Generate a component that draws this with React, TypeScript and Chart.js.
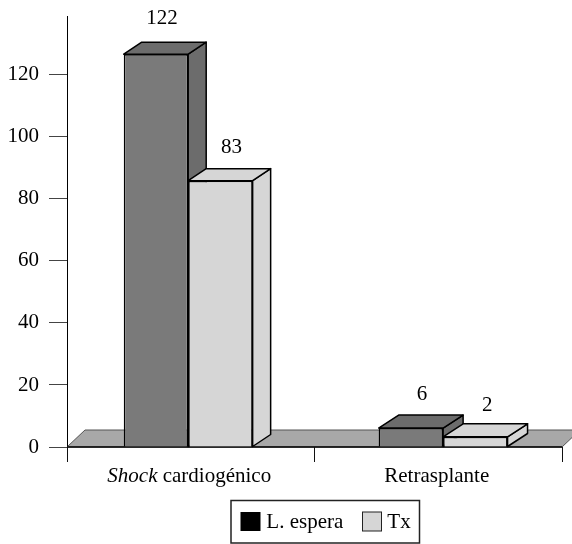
import React, { useEffect, useRef } from "react";
import { Chart, registerables } from "chart.js";

Chart.register(...registerables);

const categories = ["Shock cardiogénico", "Retrasplante"];
const italicPrefix = ["Shock", ""];
const seriesNames = ["L. espera", "Tx"];
const esperaHeights = [126.7, 6.1];
const txHeights = [85.9, 3.3];
const esperaLabels = ["122", "6"];
const txLabels = ["83", "2"];
const yTicks = [0, 20, 40, 60, 80, 100, 120];
const legendSwatches = ["#000000", "#d6d6d6"];
const frontColors = ["#7a7a7a", "#d6d6d6"];
const sideColors = ["#6c6c6c", "#d6d6d6"];
const labelShiftX = [[6, 11], [11, 12]];
const labelShiftY = [[30, 28], [28, 26]];

const FONT = "'Liberation Serif', 'Times New Roman', serif";
const FONT_SIZE = 21;
const DX = 18;
const DY = 12;

const poly = (ctx: CanvasRenderingContext2D, pts: number[][], fill: string, stroke: string, lw = 1.5) => {
  ctx.beginPath();
  pts.forEach((p, i) => (i ? ctx.lineTo(p[0], p[1]) : ctx.moveTo(p[0], p[1])));
  ctx.closePath();
  ctx.fillStyle = fill;
  ctx.fill();
  ctx.lineWidth = lw;
  ctx.strokeStyle = stroke;
  ctx.lineJoin = "round";
  ctx.stroke();
};

const plugin = {
  id: "threeD",
  afterLayout(chart: any) {
    const l = chart.legend;
    const cx = 326;
    const shift = cx - (l.left + l.right) / 2;
    l.left += shift;
    l.right += shift;
    const h = l.bottom - l.top;
    l.top = 496 + (43 - h) / 2;
    l.bottom = l.top + h;
  },
  beforeDatasetsDraw(chart: any) {
    const { ctx, chartArea: a, scales } = chart;
    const y0 = scales.y.getPixelForValue(0);
    ctx.save();
    poly(ctx, [[a.left, y0], [a.left + 18, y0 - 17], [a.right + 18, y0 - 17], [a.right, y0]], "#a8a8a8", "#555555", 1);
    ctx.beginPath();
    ctx.moveTo(a.left, y0);
    ctx.lineTo(a.right, y0);
    ctx.lineWidth = 1.5;
    ctx.strokeStyle = "#000";
    ctx.stroke();
    [0, 1].forEach((d) => {
      const meta = chart.getDatasetMeta(d);
      meta.data.forEach((b: any) => {
        const l = b.x - b.width / 2;
        const r = b.x + b.width / 2;
        const t = b.y;
        const bt = b.base;
        const dy = bt - t < 30 ? 13 : DY;
        const dx = bt - t < 30 ? 20 : DX;
        poly(ctx, [[r, t], [r + dx, t - dy], [r + dx, bt - dy], [r, bt]], sideColors[d], "#000");
        poly(ctx, [[l, t], [l + dx, t - dy], [r + dx, t - dy], [r, t]], sideColors[d], "#000");
      });
    });
    ctx.restore();
  },
  afterDatasetsDraw(chart: any) {
    const { ctx, scales } = chart;
    ctx.save();
    ctx.fillStyle = "#000";
    ctx.textBaseline = "alphabetic";
    ctx.textAlign = "center";
    ctx.font = `${FONT_SIZE}px ${FONT}`;
    [esperaLabels, txLabels].forEach((labels, d) => {
      chart.getDatasetMeta(d).data.forEach((b: any, i: number) => {
        ctx.fillText(labels[i], b.x + labelShiftX[d][i], b.y - labelShiftY[d][i]);
      });
    });
    // category labels, the first one with an italic word
    ctx.textAlign = "left";
    categories.forEach((cat, i) => {
      const pre = italicPrefix[i];
      const rest = cat.slice(pre.length);
      ctx.font = `italic ${FONT_SIZE}px ${FONT}`;
      const w1 = pre ? ctx.measureText(pre).width : 0;
      ctx.font = `${FONT_SIZE}px ${FONT}`;
      const w2 = ctx.measureText(rest).width;
      const x = scales.x.getPixelForTick(i) - 1.5 - (w1 + w2) / 2;
      if (pre) {
        ctx.font = `italic ${FONT_SIZE}px ${FONT}`;
        ctx.fillText(pre, x, 482);
        ctx.font = `${FONT_SIZE}px ${FONT}`;
      }
      ctx.fillText(rest, x + w1, 482);
    });
    // legend frame and swatches
    ctx.lineWidth = 1.5;
    ctx.strokeStyle = "#222";
    ctx.strokeRect(231, 500.5, 188.5, 42.5);
    ctx.fillStyle = legendSwatches[0];
    ctx.fillRect(240.5, 512, 20, 19);
    ctx.fillStyle = legendSwatches[1];
    ctx.fillRect(362.5, 512, 19, 19);
    ctx.lineWidth = 1;
    ctx.strokeRect(362.5, 512, 19, 19);
    ctx.restore();
  },
};

export default function App() {
  const ref = useRef<HTMLCanvasElement>(null);
  useEffect(() => {
    document.body.style.margin = "0";
    const chart = new Chart(ref.current as HTMLCanvasElement, {
      type: "bar",
      data: {
        labels: categories,
        datasets: [esperaHeights, txHeights].map((vals, d) => ({
          label: seriesNames[d],
          data: vals.map((y, i) => ({ x: i, y })),
          xAxisID: "x2",
          yAxisID: "y",
          backgroundColor: frontColors[d],
          borderColor: "#000",
          borderWidth: 1.5,
          categoryPercentage: 0.5057,
          barPercentage: 1,
        })),
      } as any,
      options: {
        responsive: false,
        animation: false,
        layout: { padding: { top: 16, right: 10, bottom: 32, left: 0 } },
        scales: {
          x: {
            type: "category",
            offset: true,
            position: "bottom",
            afterFit: (s: any) => {
              s.height = 15;
              s.paddingLeft = 0;
              s.paddingRight = 0;
            },
            grid: { offset: true, drawOnChartArea: false, tickLength: 15, color: "#111", lineWidth: 1 },
            border: { display: false },
            ticks: { display: false },
          },
          x2: {
            type: "linear",
            axis: "x",
            display: false,
            offset: false,
            min: -0.4754,
            max: 1.4664,
            afterBuildTicks: (s: any) => {
              s.ticks = [{ value: 0 }, { value: 1 }];
            },
          },
          y: {
            min: 0,
            max: 139,
            afterBuildTicks: (s: any) => {
              s.ticks = yTicks.map((value) => ({ value }));
            },
            afterFit: (s: any) => {
              s.width = 67;
              s.paddingTop = 0;
              s.paddingBottom = 0;
            },
            grid: { drawOnChartArea: false, tickLength: 18, color: "#444", lineWidth: 1 },
            border: { display: true, color: "#000", width: 1 },
            ticks: {
              padding: 10,
              color: "#000",
              font: { family: FONT, size: FONT_SIZE },
            },
          },
        },
        plugins: {
          tooltip: { enabled: false },
          legend: {
            display: true,
            position: "bottom",
            labels: {
              font: { family: FONT, size: FONT_SIZE },
              color: "#000",
              boxWidth: 14.5,
              boxHeight: 1,
              padding: 19,
              generateLabels: () =>
                seriesNames.map((text, i) => ({
                  text,
                  fillStyle: "rgba(0,0,0,0)",
                  strokeStyle: "rgba(0,0,0,0)",
                  lineWidth: 0,
                  datasetIndex: i,
                })),
            },
          },
        },
      } as any,
      plugins: [plugin as any],
    });
    return () => chart.destroy();
  }, []);
  return <canvas ref={ref} width={572} height={544} style={{ display: "block" }} />;
}
